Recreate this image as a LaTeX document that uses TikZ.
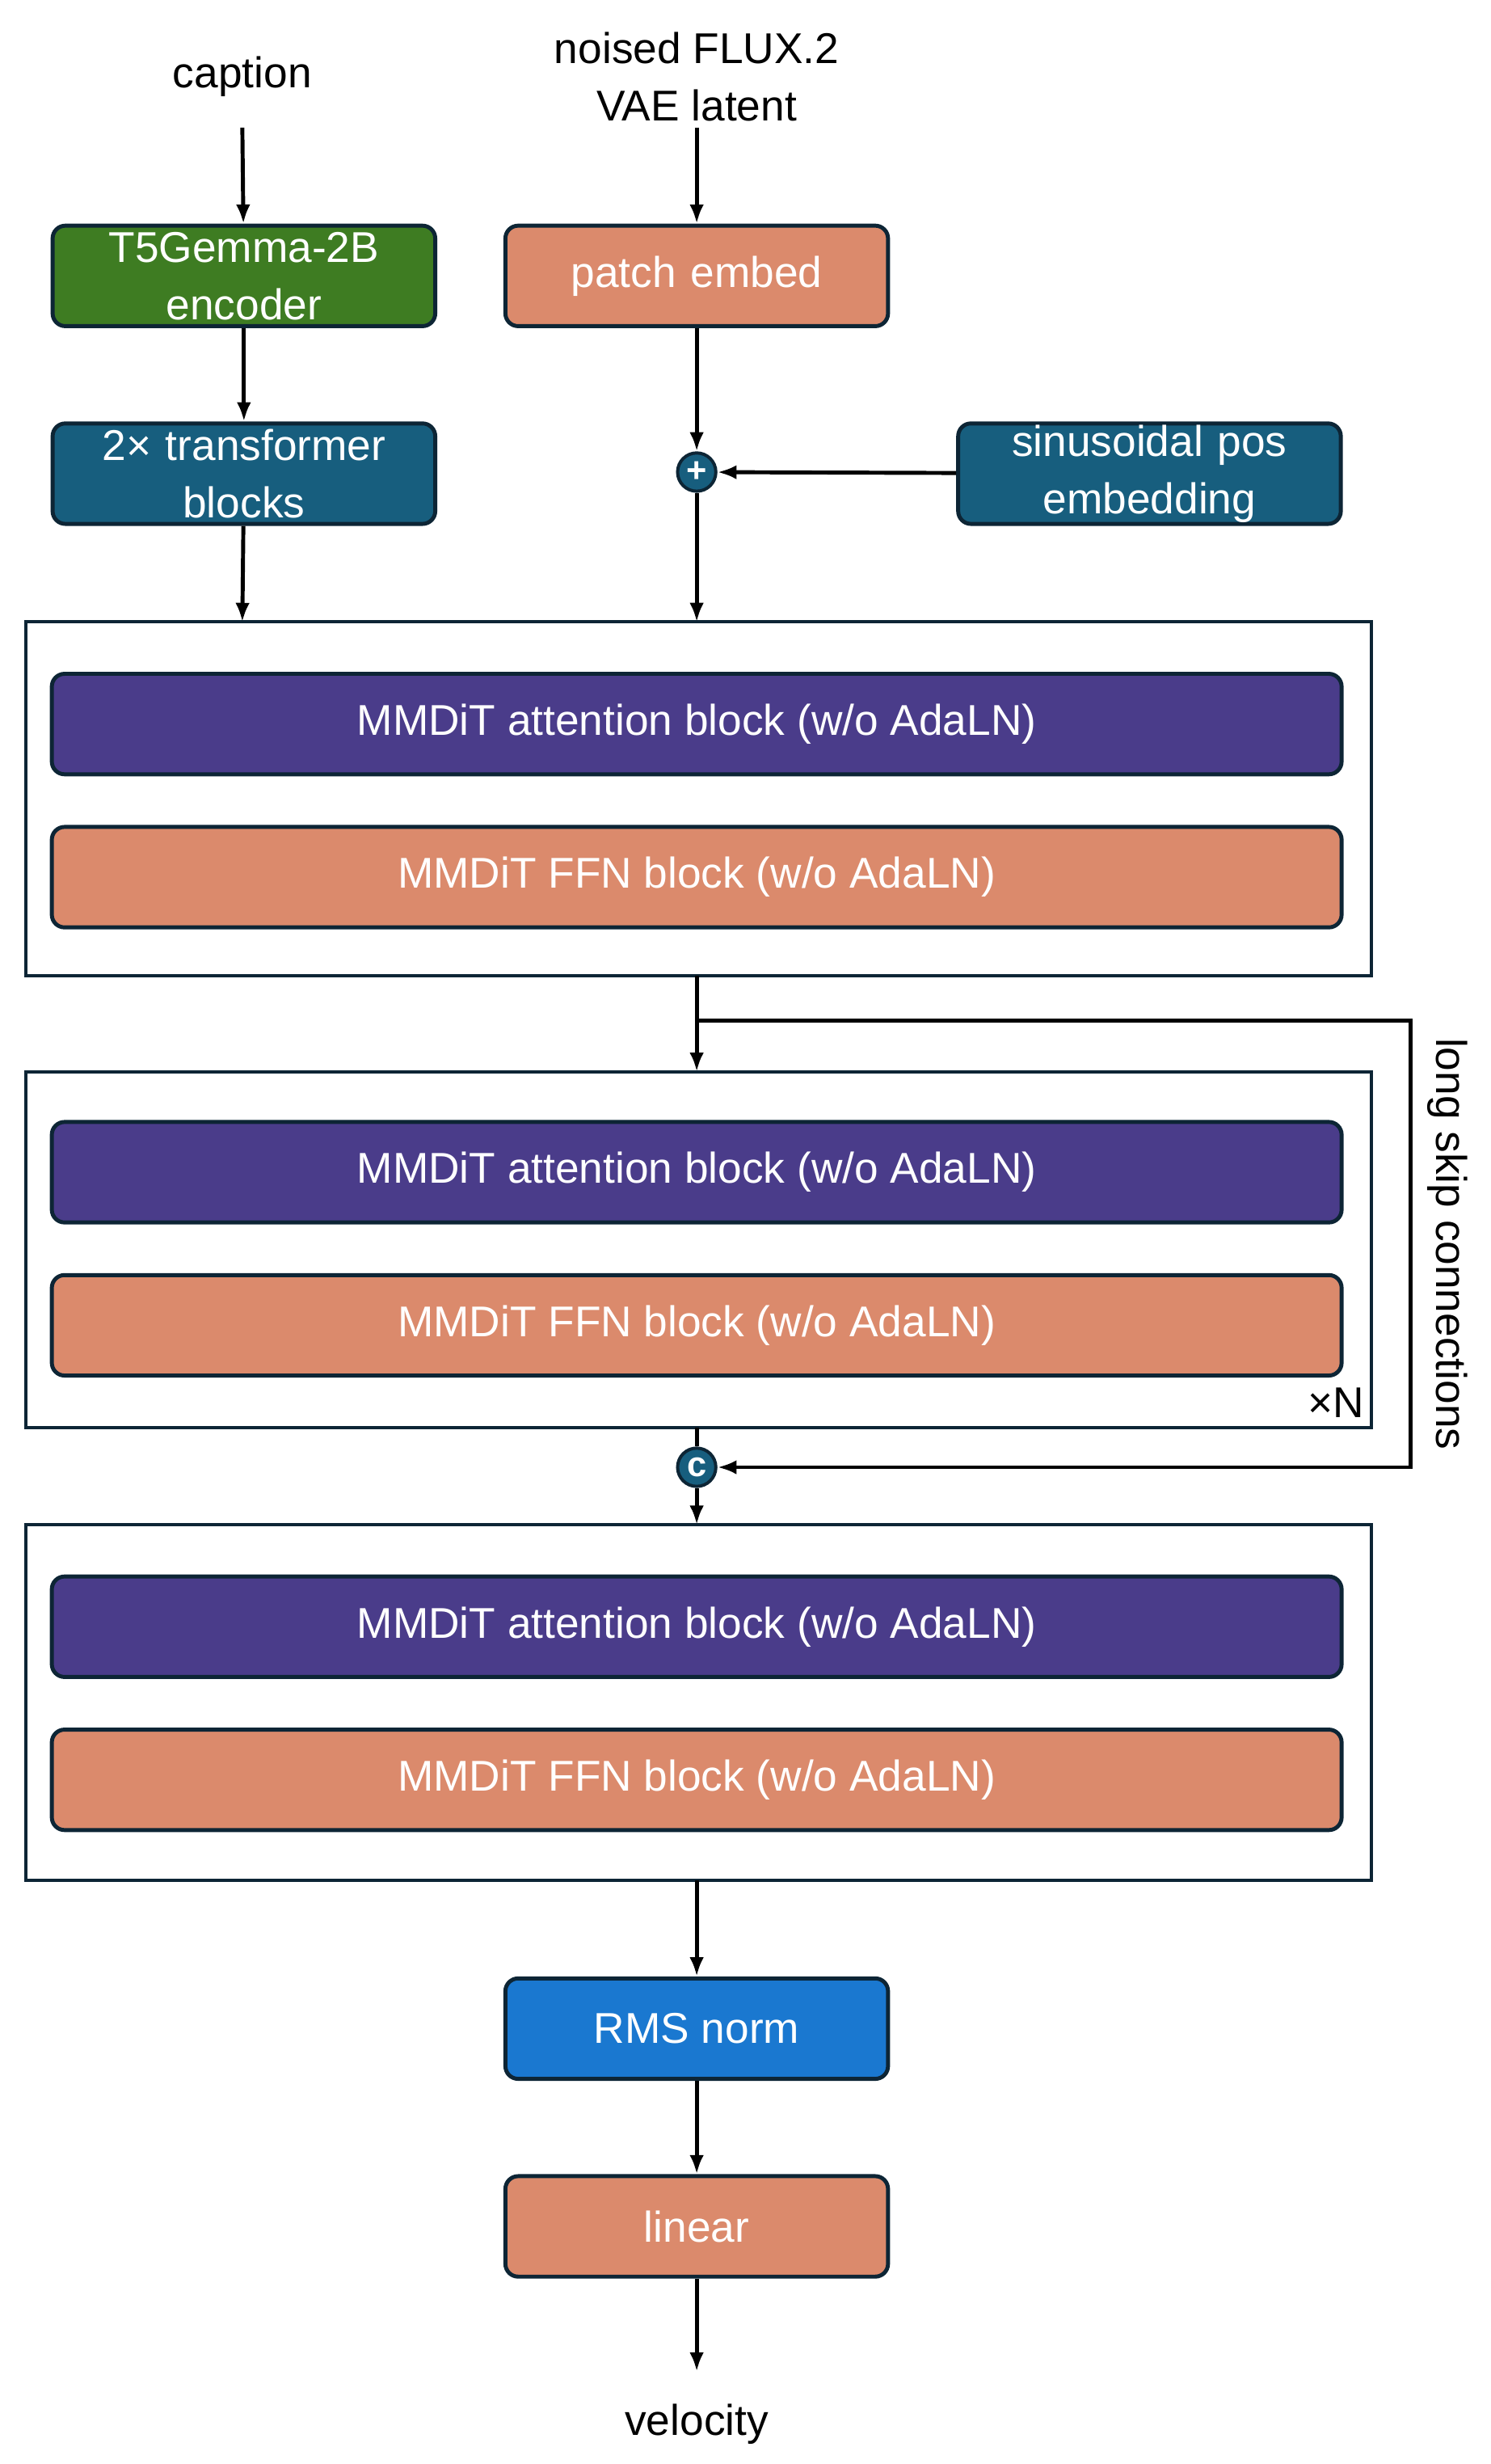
\documentclass[tikz,border=0pt]{standalone}
\usepackage{fontspec}
\setmainfont{Liberation Sans}
\usetikzlibrary{positioning,arrows.meta}
\definecolor{edge}{HTML}{0D2535}
\definecolor{green}{HTML}{3E7C22}
\definecolor{salmon}{HTML}{DB8A6C}
\definecolor{teal}{HTML}{175E7E}
\definecolor{violet}{HTML}{4A3C8A}
\definecolor{rms}{HTML}{1A78D0}
\begin{document}
\begin{tikzpicture}[x=1pt,y=-1pt,font=\fontsize{27}{36}\selectfont,
    box/.style={draw=edge,line width=2.5pt,rounded corners=8pt,text=white,minimum height=63pt,align=center,inner sep=0pt},
    small/.style={box,minimum width=240pt,text width=240pt},
    wide/.style={box,minimum width=809pt},
    group/.style={draw=edge,line width=2pt},
    op/.style={circle,draw=edge,line width=2pt,fill=teal,text=white,minimum size=24pt,inner sep=0pt,font=\bfseries\fontsize{22}{22}\selectfont},
    arr/.style={-{Latex[length=12pt,width=9pt]},line width=2.5pt}]
    \useasboundingbox (0,0) rectangle (935,1545);
    % inputs
    \node (cap) at (152,48) {caption};
    \node[align=center] (lat) at (437,48) {noised FLUX.2\\VAE latent};
    \node[small,fill=green] (enc) at (153,173) {T5Gemma-2B\\encoder};
    \node[small,fill=salmon] (patch) at (437,173) {patch embed};
    \node[small,fill=teal] (tfm) at (153,297) {2× transformer\\blocks};
    \node[small,fill=teal] (pos) at (721,297) {sinusoidal pos\\embedding};
    \node[op] (plus) at (437,296) {+};
    % stacked blocks
    \draw[group] (16,390) rectangle (860,612);
    \draw[group] (16,672) rectangle (860,895);
    \draw[group] (16,956) rectangle (860,1179);
    \coordinate (top1) at (437,390);
    \coordinate (top1c) at (152,390);
    \coordinate (bot1) at (437,612);
    \coordinate (top2) at (437,672);
    \coordinate (bot2) at (437,895);
    \coordinate (top3) at (437,956);
    \coordinate (bot3) at (437,1179);
    \foreach \i/\y in {1/0,2/281,3/566}{
        \node[wide,fill=violet] (att\i) at (437,454+\y) {MMDiT attention block (w/o AdaLN)};
        \node[wide,fill=salmon] (ffn\i) at (437,550+\y) {MMDiT FFN block (w/o AdaLN)};
    }
    \node[anchor=south east,inner sep=0pt] (rep) at (856,889) {×N};
    \node[op] (cat) at (437,920) {c};
    \node[box,fill=rms,minimum width=240pt] (norm) at (437,1272) {RMS norm};
    \node[box,fill=salmon,minimum width=240pt] (lin) at (437,1396) {linear};
    \node (vel) at (437,1520) {velocity};
    \coordinate (out) at (437,1487);
    % skip path
    \coordinate (split) at (437,640);
    \coordinate (far1) at (885,640);
    \coordinate (far2) at (885,920);
    \node[rotate=-90] (skip) at (908,780) {long skip connections};
    % connectors
    \draw[arr] (152,80) -- (enc);
    \draw[arr] (437,80) -- (patch);
    \draw[arr] (enc) -- (tfm);
    \draw[arr] (patch) -- (plus);
    \draw[arr] (pos) -- (plus);
    \draw[arr] (tfm) -- (top1c);
    \draw[arr] (plus) -- (top1);
    \draw[arr] (bot1) -- (top2);
    \draw[arr] (split) -- (far1) -- (far2) -- (cat);
    \draw[line width=2.5pt] (bot2) -- (cat);
    \draw[arr] (cat) -- (top3);
    \draw[arr] (bot3) -- (norm);
    \draw[arr] (norm) -- (lin);
    \draw[arr] (lin) -- (out);
\end{tikzpicture}
\end{document}
